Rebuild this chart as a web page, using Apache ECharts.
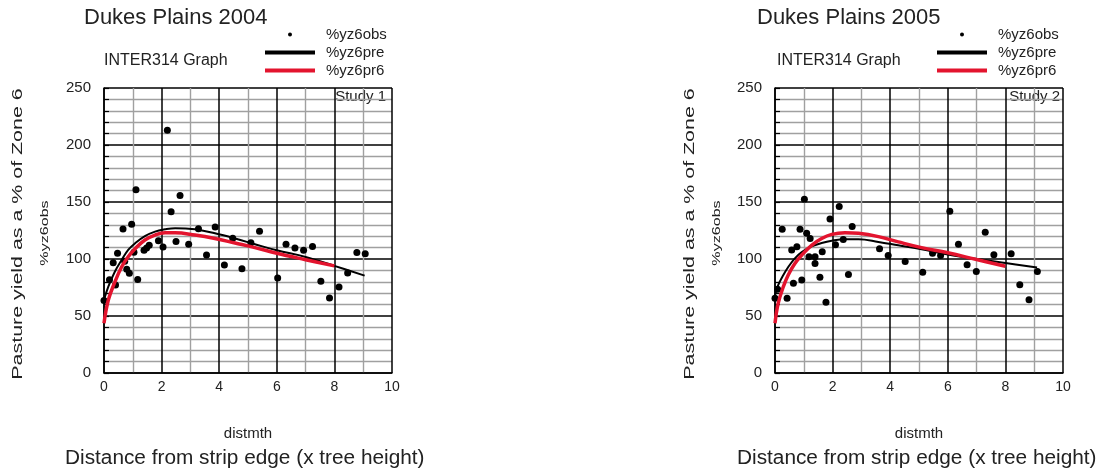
<!DOCTYPE html>
<html>
<head>
<meta charset="utf-8">
<script src="https://cdn.jsdelivr.net/npm/echarts@6/dist/echarts.min.js"></script>
<style>
html,body{margin:0;padding:0;background:#fff}
#Charts{width:1106px;height:470px}
</style>
</head>
<body>
<div id="Charts"></div>
<script>
var FONT = '"Liberation Sans", Arial, Helvetica, sans-serif'
var TXT = '#222'
var RED = '#e3142e'

// Dukes Plains 2004 (Study 1)
var obs04 = [[0,63.5],[0.19,81.7],[0.32,96.8],[0.4,77.3],[0.47,105],[0.66,126.4],[0.72,98],[0.79,91],[0.88,87.4],
	[0.96,130.4],[1.04,106],[1.11,160.8],[1.17,82],[1.39,107.6],[1.48,109.6],[1.57,112],[1.89,116],[2.05,110.6],
	[2.2,212.9],[2.33,141.5],[2.5,115.3],[2.64,155.6],[2.94,113],[3.28,126.5],[3.56,103.5],[3.86,128],[4.18,94.8],
	[4.47,118.3],[4.79,91.4],[5.1,114.2],[5.4,124.3],[6.03,83.3],[6.32,113],[6.63,109.6],[6.93,107.6],[7.24,111],
	[7.53,80.4],[7.83,65.8],[8.16,75.4],[8.46,87.7],[8.78,105.8],[9.07,104.7]]
var preX04 = [0,0.15,0.38,0.61,0.84,1.08,1.42,1.77,2.12,2.47,3.16,3.85,4.55,5.24,6,7,8,9.05]
var preY04 = [64,75.7,89,99,108,113.8,120,124,126,127,126,122.5,118,113,107.6,101.8,94,85.4]
var pr6X04 = [0,0.15,0.38,0.61,0.84,1.08,1.42,1.77,2.12,2.47,3.16,3.85,4.55,5.24,6,7,8]
var pr6Y04 = [43.6,64,80,93,102,109,116.7,121,123,123,121,118,114,110,105,99.4,94]

// Dukes Plains 2005 (Study 2)
var obs05 = [[0,65.5],[0.09,73.4],[0.25,126],[0.42,65.5],[0.58,108],[0.64,78.7],[0.76,110.8],[0.87,126],[0.93,81.6],
	[1.02,152.4],[1.1,122.5],[1.18,102],[1.22,118],[1.39,102],[1.39,96],[1.56,84],[1.64,106.4],[1.77,62],[1.91,135],
	[2.1,112.5],[2.23,146],[2.37,117],[2.55,86.5],[2.68,128.5],[3.63,109],[3.93,103],[4.52,97.8],[5.13,88.3],
	[5.47,105],[5.75,103],[6.07,141.8],[6.37,113],[6.67,95],[6.99,89],[7.3,123.4],[7.6,103.8],[8.2,104.7],
	[8.5,77.5],[8.82,64.3],[9.11,89]]
var preX05 = [0,0.11,0.29,0.46,0.69,0.93,1.27,1.62,1.97,2.43,2.9,3.59,4.28,5.09,6,7,8,9.1]
var preY05 = [68,77,86,93,100.6,106,111,114,116,117.3,117.3,115,112,108.5,104,100,96.5,92.5]
var pr6X05 = [0,0.11,0.29,0.46,0.69,0.93,1.27,1.62,1.97,2.43,2.9,3.59,4.28,5.09,6,7,8]
var pr6Y05 = [43.6,61,75.7,86,96,103.5,112,118,121.6,123,122.5,119.6,115,110,105.5,99.5,93.6]

var titles = ['Dukes Plains 2004', 'Dukes Plains 2005']
var studies = ['Study 1', 'Study 2']
var names = ['%yz6obs', '%yz6pre', '%yz6pr6']
var yTitle = 'Pasture yield as a % of Zone 6'
var xTitle = 'Distance from strip edge (x tree height)'
var xName = 'distmth'

function pairs(xs, ys){
	return xs.map(function(x, i){ return [x, ys[i]] })
}

function txt(x, y, s, size, o){
	o = o || {}
	return {
		type: 'text', x: x, y: y, silent: true,
		rotation: o.rot || 0, scaleX: o.sx || 1,
		style: {text: s, fontSize: size, fontFamily: FONT, fill: TXT,
			align: o.align || 'left', verticalAlign: 'middle'}
	}
}

var panels = [
	{obs: obs04, pre: pairs(preX04, preY04), pr6: pairs(pr6X04, pr6Y04), grid: 104, title: 84, inter: 104,
		study: 386, ytit: 18, yname: 44.5, xtit: 65, leg: 265},
	{obs: obs05, pre: pairs(preX05, preY05), pr6: pairs(pr6X05, pr6Y05), grid: 775, title: 757, inter: 777,
		study: 1060, ytit: 690, yname: 717, xtit: 737, leg: 937}
]

var option = {
	backgroundColor: '#fff',
	animation: false,
	title: [], grid: [], xAxis: [], yAxis: [], series: [], legend: [], graphic: []
}

panels.forEach(function(p, i){
	option.title.push({
		text: titles[i], left: p.title, top: 7, padding: 0,
		textStyle: {fontSize: 22, fontWeight: 'normal', color: TXT, fontFamily: FONT}
	})
	option.grid.push({left: p.grid, top: 88, width: 288, height: 285})
	option.xAxis.push({
		gridIndex: i, type: 'value', min: 0, max: 10, interval: 2,
		name: xName, nameLocation: 'middle', nameGap: 53,
		nameTextStyle: {fontSize: 15, color: TXT, fontFamily: FONT},
		axisLine: {show: true, onZero: false, lineStyle: {color: '#000', width: 1.5}},
		axisTick: {show: false},
		axisLabel: {fontSize: 14, color: TXT, fontFamily: FONT, margin: 7},
		splitLine: {show: true, lineStyle: {color: '#000', width: 1.5}},
		minorTick: {show: false, splitNumber: 2},
		minorSplitLine: {show: true, lineStyle: {color: '#a0a0a0', width: 1.4}}
	})
	option.yAxis.push({
		gridIndex: i, type: 'value', min: 0, max: 250, interval: 50,
		axisLine: {show: true, onZero: false, lineStyle: {color: '#000', width: 1.5}},
		axisTick: {show: true, inside: true, length: 5, lineStyle: {color: '#000', width: 1.2}},
		minorTick: {show: true, splitNumber: 5, length: 5, lineStyle: {color: '#000', width: 1.2}},
		axisLabel: {fontSize: 15, color: TXT, fontFamily: FONT, margin: 13},
		splitLine: {show: true, lineStyle: {color: '#000', width: 1.5}},
		minorSplitLine: {show: true, lineStyle: {color: '#a0a0a0', width: 1.4}}
	})
	option.series.push({
		name: names[0], type: 'scatter', xAxisIndex: i, yAxisIndex: i,
		symbolSize: 7, itemStyle: {color: '#000', opacity: 1}, data: p.obs, z: 3
	})
	option.series.push({
		name: names[1], type: 'line', xAxisIndex: i, yAxisIndex: i,
		smooth: 0.4, symbol: 'none', showSymbol: false,
		itemStyle: {color: '#000'}, lineStyle: {color: '#000', width: 2},
		data: p.pre, z: 4
	})
	option.series.push({
		name: names[2], type: 'line', xAxisIndex: i, yAxisIndex: i,
		smooth: 0.4, symbol: 'none', showSymbol: false,
		itemStyle: {color: RED}, lineStyle: {color: RED, width: 3.5},
		data: p.pr6, z: 5
	})
	option.legend.push({
		left: p.leg, top: 27, orient: 'vertical', padding: 0,
		itemWidth: 50, itemHeight: 4, itemGap: 3, selectedMode: false,
		textStyle: {fontSize: 15, color: TXT, fontFamily: FONT, padding: [0, 0, 0, 6]},
		data: [
			{name: names[0], icon: 'circle'},
			{name: names[1], icon: 'rect'},
			{name: names[2], icon: 'rect'}
		]
	})
	option.graphic.push(txt(p.inter, 61, 'INTER314 Graph', 16))
	option.graphic.push(txt(p.study, 97, studies[i], 15, {align: 'right'}))
	option.graphic.push(txt(p.ytit, 234, yTitle, 15.5, {align: 'center', rot: Math.PI / 2, sx: 1.38}))
	option.graphic.push(txt(p.yname, 233, names[0], 11.5, {align: 'center', rot: Math.PI / 2, sx: 1.4}))
	option.graphic.push(txt(p.xtit, 458, xTitle, 20, {sx: 1.04}))
})

var chart = echarts.init(document.getElementById('Charts'))
chart.setOption(option)
</script>
</body>
</html>
